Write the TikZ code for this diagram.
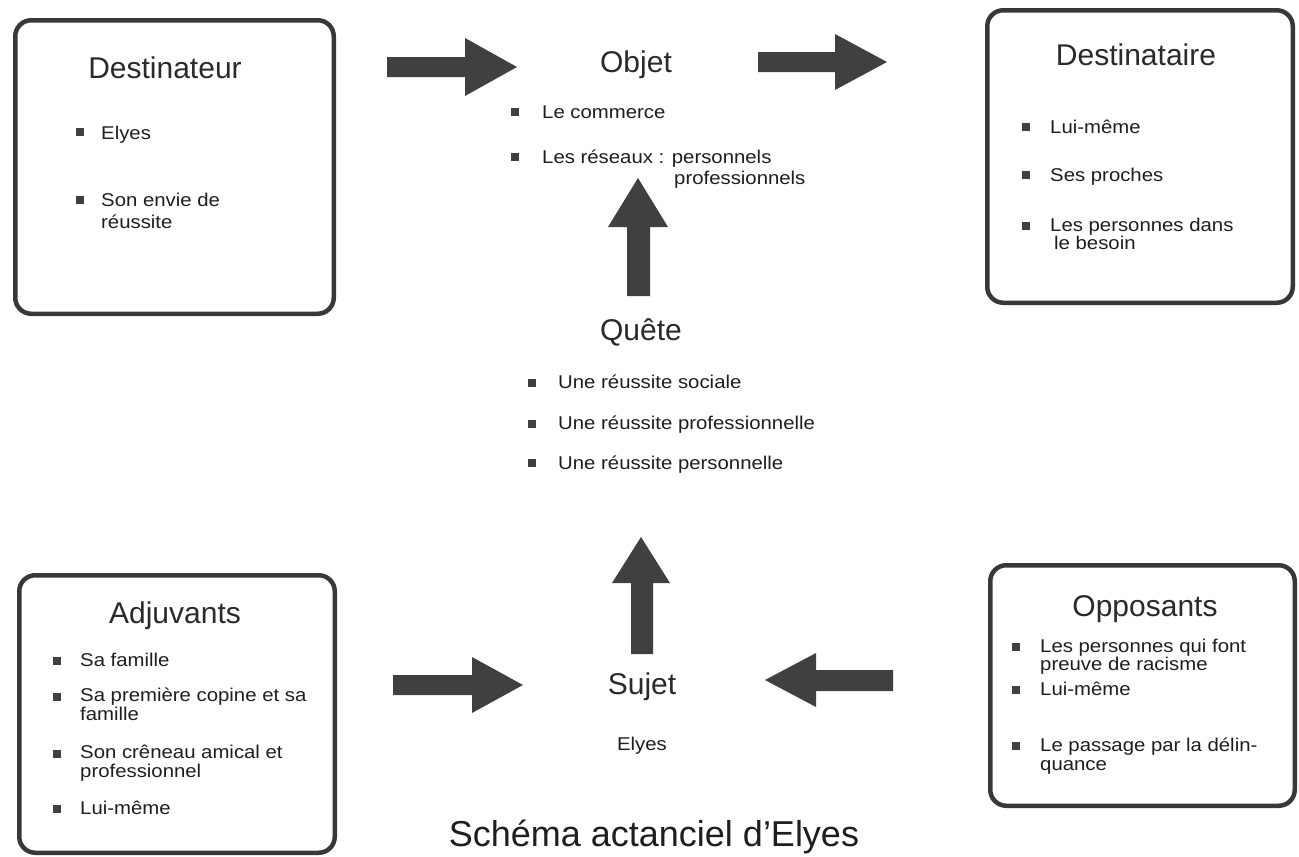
\documentclass[tikz,border=0pt]{standalone}
\usepackage{fontspec}
\setmainfont{Liberation Sans}
\newfontfamily\bodyfont[FakeStretch=1.1]{Liberation Sans}
\definecolor{boxc}{HTML}{383838}
\definecolor{arrc}{HTML}{404040}
\definecolor{txtc}{HTML}{1E1E1E}
\definecolor{ttlc}{HTML}{2A2A2A}
\begin{document}
\begin{tikzpicture}[x=1pt,y=-1pt,
  frame/.style={draw=boxc, line width=4.5pt, rounded corners=16pt, inner sep=0pt},
  ttl/.style={font=\fontsize{30}{36}\selectfont, text=ttlc, inner sep=0pt,
              text height=21.5pt, text depth=0pt, anchor=center},
  itm/.style={font=\bodyfont\fontsize{18.5}{22}\selectfont, text=txtc, inner sep=0pt,
              text height=13pt, text depth=1pt, anchor=west},
  bul/.style={fill=arrc, minimum size=8pt, inner sep=0pt},
  blk/.style={fill=arrc}]
\path[use as bounding box] (0,0) rectangle (1299,857);

% ---- frames of the four actants ----
\node[frame, minimum width=318.5pt, minimum height=293.5pt] (dstr) at (174.5,167) {};
\node[frame, minimum width=305.5pt, minimum height=292.5pt] (dest) at (1140,156.5) {};
\node[frame, minimum width=315.5pt, minimum height=277.5pt] (adj) at (177,714) {};
\node[frame, minimum width=304.5pt, minimum height=240.5pt] (opp) at (1142.5,685.5) {};

% ---- Destinateur ----
\node[ttl] (dstr-t) at (165,68) {Destinateur};
\node[bul] (dstr-b1) at (80,132) {};
\node[itm] (dstr-i1) at (101,133) {Elyes};
\node[bul] (dstr-b2) at (80,200) {};
\node[itm] (dstr-i2) at (101,200) {Son envie de};
\node[itm] (dstr-i2b) at (101,222) {réussite};

% ---- Objet ----
\node[ttl] (obj-t) at (636,62) {Objet};
\node[bul] (obj-b1) at (515,112) {};
\node[itm] (obj-i1) at (542,112) {Le commerce};
\node[bul] (obj-b2) at (515,157) {};
\node[itm] (obj-i2) at (542,157) {Les réseaux : personnels};
\node[itm] (obj-i2b) at (674,178) {professionnels};

% ---- Destinataire ----
\node[ttl] (dest-t) at (1136,55) {Destinataire};
\node[bul] (dest-b1) at (1026,127) {};
\node[itm] (dest-i1) at (1050,127) {Lui-même};
\node[bul] (dest-b2) at (1026,175) {};
\node[itm] (dest-i2) at (1050,175) {Ses proches};
\node[bul] (dest-b3) at (1026,226) {};
\node[itm] (dest-i3) at (1050,225) {Les personnes dans};
\node[itm] (dest-i3b) at (1054,243) {le besoin};

% ---- Quête ----
\node[ttl] (qte-t) at (641,330) {Quête};
\node[bul] (qte-b1) at (532,383) {};
\node[itm] (qte-i1) at (558,382) {Une réussite sociale};
\node[bul] (qte-b2) at (532,424) {};
\node[itm] (qte-i2) at (558,423) {Une réussite professionnelle};
\node[bul] (qte-b3) at (532,463) {};
\node[itm] (qte-i3) at (558,463) {Une réussite personnelle};

% ---- Sujet ----
\node[ttl] (suj-t) at (642,684) {Sujet};
\node[itm, anchor=center] (suj-i) at (642,744) {Elyes};

% ---- Adjuvants ----
\node[ttl] (adj-t) at (175,613) {Adjuvants};
\node[bul] (adj-b1) at (57,661) {};
\node[itm] (adj-i1) at (80,660) {Sa famille};
\node[bul] (adj-b2) at (57,697) {};
\node[itm] (adj-i2) at (80,695) {Sa première copine et sa};
\node[itm] (adj-i2b) at (80,714) {famille};
\node[bul] (adj-b3) at (57,754) {};
\node[itm] (adj-i3) at (80,752) {Son crêneau amical et};
\node[itm] (adj-i3b) at (80,771) {professionnel};
\node[bul] (adj-b4) at (57,809) {};
\node[itm] (adj-i4) at (80,808) {Lui-même};

% ---- Opposants ----
\node[ttl] (opp-t) at (1145,606) {Opposants};
\node[bul] (opp-b1) at (1016,647) {};
\node[itm] (opp-i1) at (1040,646) {Les personnes qui font};
\node[itm] (opp-i1b) at (1040,664) {preuve de racisme};
\node[bul] (opp-b2) at (1016,690) {};
\node[itm] (opp-i2) at (1040,689) {Lui-même};
\node[bul] (opp-b3) at (1016,746) {};
\node[itm] (opp-i3) at (1040,745) {Le passage par la délin-};
\node[itm] (opp-i3b) at (1040,764) {quance};

% ---- block arrows ----
\fill[blk] (387,57) -- (465,57) -- (465,38) -- (517,67) -- (465,96) -- (465,77) -- (387,77) -- cycle;
\fill[blk] (758,52) -- (835,52) -- (835,34) -- (887,62) -- (835,90) -- (835,72) -- (758,72) -- cycle;
\fill[blk] (627,296) -- (627,227) -- (608,227) -- (638,178) -- (668,227) -- (650,227) -- (650,296) -- cycle;
\fill[blk] (631,654) -- (631,583) -- (612,583) -- (641,537) -- (670,583) -- (653,583) -- (653,654) -- cycle;
\fill[blk] (393,675) -- (472,675) -- (472,657) -- (523,685) -- (472,713) -- (472,695) -- (393,695) -- cycle;
\fill[blk] (893,670) -- (816,670) -- (816,653) -- (765,680) -- (816,707) -- (816,691) -- (893,691) -- cycle;

% ---- caption ----
\node[font=\fontsize{36}{42}\selectfont, text=txtc, inner sep=0pt,
      text height=26pt, text depth=0pt] (cap) at (654,833) {Schéma actanciel d’Elyes};
\end{tikzpicture}
\end{document}
